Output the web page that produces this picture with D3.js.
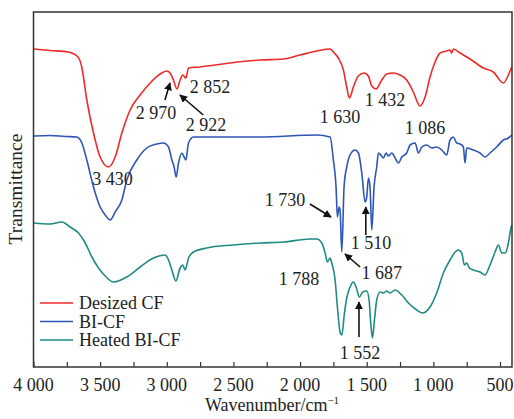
<!DOCTYPE html>
<html>
<head>
<meta charset="utf-8">
<script src="https://cdn.jsdelivr.net/npm/d3@7"></script>
<style>
body { margin: 0; background: #fff; }
svg text { font-family: "Liberation Serif", "DejaVu Serif", "Times New Roman", serif; fill: #222; }
</style>
</head>
<body>
<script>
// wavenumber (cm-1) , transmittance (a.u., curves stacked)
var desized = [[4000,318],[3875,316.5],[3739,315],[3666,310],[3638,300],[3600,267],[3550,234],[3500,210],[3437,200],[3387,210],[3337,234],[3275,257],[3200,272],[3125,284],[3050,293],[3000,296],[2975,294],[2950,287],[2924,278],[2900,287],[2880,292],[2857,289],[2837,299],[2750,300],[2525,304],[2300,307],[2125,308],[2000,312],[1875,316],[1775,318],[1750,315],[1713,309],[1675,297],[1650,280],[1630,269],[1600,280],[1563,291],[1518,294],[1488,291],[1462,281],[1430,278],[1387,287],[1350,293],[1300,294],[1250,292],[1200,287],[1150,275],[1100,261],[1062,270],[1025,290],[987,305],[950,314],[900,316],[875,317],[864,314],[850,318],[800,314],[725,308],[625,299],[550,295],[475,284],[437,292],[412,300]];

var bicf = [[4000,231],[3875,231.5],[3762,230.5],[3675,230],[3637,224],[3600,207],[3550,180],[3500,160],[3462,152],[3425,147],[3387,155],[3337,167],[3300,187],[3225,207],[3150,219],[3075,223],[3025,224],[2987,220],[2962,207],[2945,200],[2930,190],[2912,204],[2887,214],[2870,210],[2857,207],[2837,224],[2800,230],[2300,230],[1875,232],[1775,230],[1750,207],[1730,180],[1720,150],[1707,160],[1700,157],[1687,115],[1670,180],[1650,200],[1625,212],[1587,217],[1562,214],[1537,194],[1512,165],[1500,170],[1487,189],[1475,180],[1462,137],[1445,180],[1425,200],[1412,214],[1394,212],[1375,209],[1355,214],[1337,211],[1312,214],[1287,209],[1262,204],[1237,210],[1200,214],[1175,222],[1137,224],[1112,214],[1087,220],[1050,222],[1012,219],[975,220],[937,217],[900,212],[875,227],[850,230],[825,224],[800,223],[775,220],[762,204],[750,219],[700,217],[650,214],[612,210],[575,214],[525,220],[475,227],[437,229],[412,232]];

var heated = [[4000,144],[3875,143],[3787,145],[3725,140],[3662,134],[3612,124],[3562,110],[3512,99],[3462,91],[3400,85],[3300,90],[3200,100],[3100,109],[3012,112],[2987,107],[2962,97],[2932,86],[2900,99],[2880,102],[2862,97],[2837,109],[2800,115],[2700,119],[2500,122],[2300,124],[2125,125],[1925,128],[1875,128],[1837,124],[1812,114],[1795,105],[1775,109],[1762,104],[1737,87],[1720,60],[1700,35],[1687,32],[1667,54],[1650,69],[1625,80],[1600,85],[1580,80],[1555,70],[1530,75],[1500,76],[1482,67],[1470,44],[1457,29],[1442,47],[1425,67],[1400,75],[1375,74],[1350,76],[1325,74],[1287,77],[1237,72],[1187,64],[1125,57],[1080,54],[1025,60],[975,74],[925,94],[875,107],[837,115],[812,117],[787,114],[767,102],[750,104],[730,99],[700,97],[650,95],[612,92],[575,102],[537,115],[512,122],[487,114],[462,114],[437,124],[425,134],[412,142]];

var seriesNames = ["Desized CF", "BI-CF", "Heated BI-CF"];
var seriesColors = ["#ee2a2a", "#2d56b5", "#1f8b84"];
var tickValues = d3.range(4000, 499, -250);
var labelTicks = [4000, 3500, 3000, 2500, 2000, 1500, 1000, 500];

// peak labels: text, position [w, v], optional arrow [w1,v1,w2,v2]
var peakLabels = [
  ["3 430", [3407, 188], null],
  ["2 970", [3081, 254], [3014, 267, 2976, 284]],
  ["2 922", [2706, 242], [2726, 252, 2901, 272]],
  ["2 852", [2676, 280], null],
  ["1 630", [1700, 250], null],
  ["1 432", [1363, 267], null],
  ["1 086", [1063, 239], null],
  ["1 730", [2113, 167], [1926, 163, 1768, 150]],
  ["1 510", [1468, 124], [1507, 132, 1507, 160]],
  ["1 687", [1387, 94], [1550, 100, 1663, 113]],
  ["1 788", [2008, 88], null],
  ["1 552", [1550, 14], [1558, 30, 1558, 65]]
];

var W = 514, H = 419;
var FONT = "'Liberation Serif', 'DejaVu Serif', 'Times New Roman', serif";
var FS = 18;
var svg = d3.select("body").append("svg").attr("width", W).attr("height", H)
  .attr("font-family", FONT);

var x = d3.scaleLinear().domain([4000, 410]).range([33.5, 512]);
var y = d3.scaleLinear().domain([0, 355]).range([367, 12]);

svg.append("defs").append("marker")
  .attr("id", "arr").attr("viewBox", "0 0 10 10")
  .attr("refX", 9).attr("refY", 5)
  .attr("markerWidth", 5).attr("markerHeight", 5)
  .attr("markerUnits", "strokeWidth")
  .attr("orient", "auto")
  .append("path").attr("d", "M0,0L10,5L0,10z").attr("fill", "#111");

var line = d3.line()
  .x(function(d){ return x(d[0]); })
  .y(function(d){ return y(d[1]); })
  .curve(d3.curveMonotoneX);

var all = [desized, bicf, heated];
all.forEach(function(s, i){
  svg.append("path")
    .attr("d", line(s))
    .attr("fill", "none")
    .attr("stroke", seriesColors[i])
    .attr("stroke-width", 1.6);
});

// frame
svg.append("rect")
  .attr("x", 33.5).attr("y", 12)
  .attr("width", 478.5).attr("height", 355)
  .attr("fill", "none").attr("stroke", "#333").attr("stroke-width", 1.5);

// bottom axis
var fmt = function(d){ return d >= 1000 ? Math.floor(d/1000) + " " + d3.format("03d")(d % 1000) : String(d); };
var ax = svg.append("g").attr("transform", "translate(0,367)")
  .call(d3.axisBottom(x).tickValues(tickValues).tickSizeInner(-5).tickSizeOuter(0).tickFormat(""));
ax.select(".domain").remove();
ax.selectAll("line").attr("stroke", "#333").attr("stroke-width", 1.2);

svg.selectAll(".tlab").data(labelTicks).enter().append("text")
  .attr("class", "tlab")
  .attr("x", function(d){ return x(d); })
  .attr("y", 391)
  .attr("text-anchor", "middle")
  .attr("font-size", FS)
  .text(fmt);

var xt = svg.append("text").attr("x", 272).attr("y", 411).attr("text-anchor", "middle").attr("font-size", FS);
xt.append("tspan").text("Wavenumber/cm");
xt.append("tspan").attr("dy", -7).attr("font-size", 11).text("\u22121");

svg.append("text")
  .attr("transform", "translate(22,189) rotate(-90)")
  .attr("text-anchor", "middle")
  .attr("font-size", 19.5)
  .text("Transmittance");

// peak labels and arrows
peakLabels.forEach(function(p){
  svg.append("text")
    .attr("x", x(p[1][0])).attr("y", y(p[1][1]))
    .attr("dy", "0.35em")
    .attr("text-anchor", "middle")
    .attr("font-size", FS)
    .text(p[0]);
  if (p[2]) {
    svg.append("line")
      .attr("x1", x(p[2][0])).attr("y1", y(p[2][1]))
      .attr("x2", x(p[2][2])).attr("y2", y(p[2][3]))
      .attr("stroke", "#111").attr("stroke-width", 1.6)
      .attr("marker-end", "url(#arr)");
  }
});

// legend
var lg = svg.append("g");
seriesNames.forEach(function(n, i){
  var yy = 303 + i * 18.5;
  lg.append("line").attr("x1", 40).attr("x2", 73).attr("y1", yy).attr("y2", yy)
    .attr("stroke", seriesColors[i]).attr("stroke-width", 1.6);
  lg.append("text").attr("x", 79).attr("y", yy).attr("dy", "0.35em")
    .attr("font-size", FS).text(n);
});
</script>
</body>
</html>
